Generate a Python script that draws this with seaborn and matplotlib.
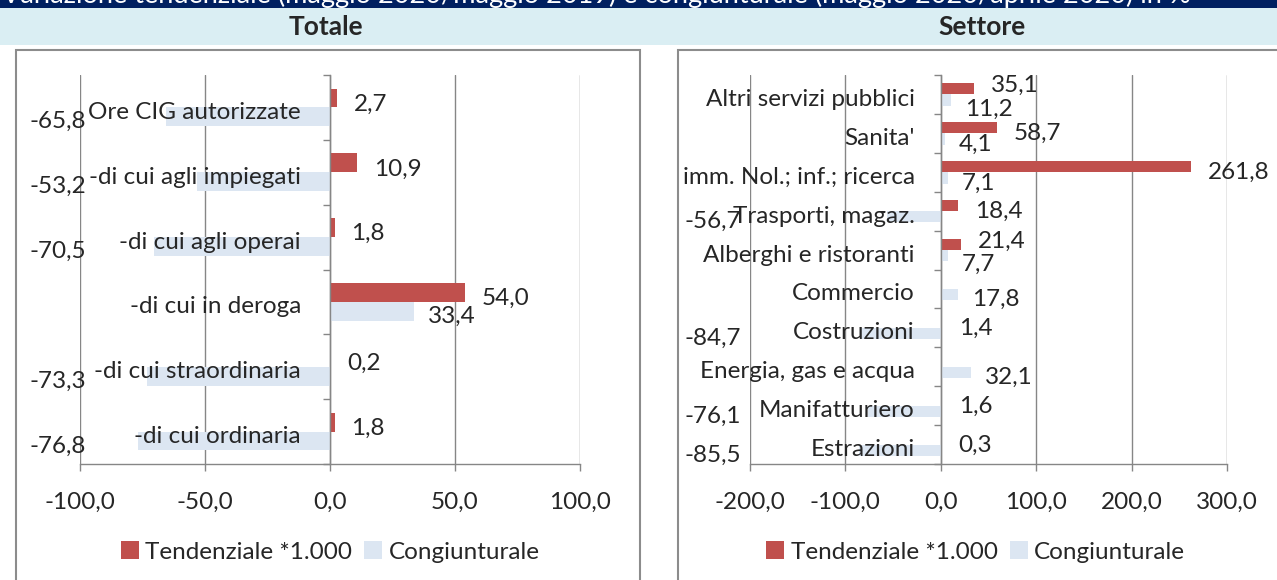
import numpy as np
import pandas as pd
import matplotlib
matplotlib.use("Agg")
import matplotlib.pyplot as plt
from matplotlib.patches import Rectangle
from matplotlib.ticker import FuncFormatter
import seaborn as sns

sns.set_style("white")
plt.rcParams['font.family'] = ['Lato', 'DejaVu Sans']

# dati
serie = ["Tendenziale *1.000", "Congiunturale"]

tot_cat = ["Ore CIG autorizzate", "-di cui agli impiegati", "-di cui agli operai",
           "-di cui in deroga", "-di cui straordinaria", "-di cui ordinaria"]
tot_tend = [2.7, 10.9, 1.8, 54.0, 0.2, 1.8]
tot_cong = [-65.8, -53.2, -70.5, 33.4, -73.3, -76.8]

set_cat = ["Altri servizi pubblici", "Sanita'", "imm. Nol.; inf.; ricerca",
           "Trasporti, magaz.", "Alberghi e ristoranti", "Commercio",
           "Costruzioni", "Energia, gas e acqua", "Manifatturiero", "Estrazioni"]
set_tend = [35.1, 58.7, 261.8, 18.4, 21.4, np.nan, 1.4, np.nan, 1.6, 0.3]
set_cong = [11.2, 4.1, 7.1, -56.7, 7.7, 17.8, -84.7, 32.1, -76.1, -85.5]

titolo = "Variazione tendenziale (maggio 2020/maggio 2019) e congiunturale (maggio 2020/aprile 2020) in %"

RED = "#C0504D"
BLUE = "#DCE6F2"
GRID = "#868686"
FS = 17.5
W, H = 1277, 580


def fmt(v):
    return f"{v:.1f}".replace('.', ',')


def px(v):
    return v * 0.72  # pixel -> punti a 100 dpi


def panel(fig, rect, cats, tend, cong, xlim, xticks, cat_dx, neg_dx, leg_x):
    x0, y0, x1, y1 = rect
    ax = fig.add_axes([x0 / W, 1 - y1 / H, (x1 - x0) / W, (y1 - y0) / H])
    df = pd.DataFrame({
        'cat': cats * 2,
        'serie': [serie[0]] * len(cats) + [serie[1]] * len(cats),
        'val': list(tend) + list(cong),
    })
    sns.barplot(data=df, x='val', y='cat', hue='serie', orient='h', order=cats,
                hue_order=serie, palette=[RED, BLUE], saturation=1, width=0.58,
                errorbar=None, linewidth=0, ax=ax)
    ax.set_xlim(*xlim)
    ax.set_xticks(xticks)
    ax.xaxis.set_major_formatter(FuncFormatter(lambda v, p: fmt(v)))
    n = len(cats)
    ax.set_yticks(np.arange(-0.5, n, 1))
    ax.set_yticklabels([])
    ax.set_ylim(n - 0.5, -0.5)
    ax.set_xlabel('')
    ax.set_ylabel('')
    ax.set_facecolor('none')
    for s in ['top', 'right']:
        ax.spines[s].set_visible(False)
    ax.spines['left'].set_position(('data', 0))
    for s in ['left', 'bottom']:
        ax.spines[s].set_color(GRID)
        ax.spines[s].set_linewidth(1)
    ax.xaxis.grid(True, color=GRID, lw=1)
    ax.yaxis.grid(False)
    ax.set_axisbelow(True)
    ax.tick_params(axis='x', direction='out', length=5, width=1, color=GRID,
                   pad=15, labelsize=FS, bottom=True)
    ax.tick_params(axis='y', direction='out', length=5, width=1, color=GRID, left=True)

    # scala in pixel per capire se le etichette si sovrappongono
    ppu = (x1 - x0) / (xlim[1] - xlim[0])
    off = 0.58 / 4
    for i, c in enumerate(cats):
        ax.annotate(c, xy=(0, i), xytext=(px(-cat_dx), px(-5)), textcoords='offset points',
                    ha='right', va='center', fontsize=FS)
        t = tend[i]
        v = cong[i]
        dt, dv = -6, -5
        if not np.isnan(t) and v >= 0 and abs(t - v) * ppu < 40:
            dt, dv = 3, -9
        if not np.isnan(t):
            ax.annotate(fmt(t), xy=(t, i - off), xytext=(px(17), px(dt)),
                        textcoords='offset points', ha='left', va='center', fontsize=FS)
        if v >= 0:
            ax.annotate(fmt(v), xy=(v, i + off), xytext=(px(14), px(dv)),
                        textcoords='offset points', ha='left', va='center', fontsize=FS)
        else:
            ax.annotate(fmt(v), xy=(0, i + off), xycoords=ax.get_yaxis_transform(),
                        xytext=(px(neg_dx), px(-5)), textcoords='offset points',
                        ha='right', va='center', fontsize=FS)

    sns.move_legend(ax, 'center', bbox_to_anchor=(leg_x, -0.226), ncol=2, frameon=False,
                    title=None, fontsize=FS, handlelength=0.75, handleheight=0.75,
                    handletextpad=0.25, columnspacing=0.5)
    return ax


fig = plt.figure(figsize=(W / 100, H / 100), dpi=100)

# intestazioni
fig.add_artist(Rectangle((0, 1 - 8 / H), 1, 8 / H, transform=fig.transFigure,
                         facecolor="#002060", edgecolor='none'))
fig.add_artist(Rectangle((0, 1 - 45 / H), 1, 37 / H, transform=fig.transFigure,
                         facecolor="#DAEEF3", edgecolor='none'))
fig.text(2 / W, 1 - 3 / H, titolo, color='white', fontsize=19.5, ha='left', va='baseline')
fig.text(326 / W, 1 - 27 / H, "Totale", fontsize=19, fontweight='bold', ha='center', va='center')
fig.text(982 / W, 1 - 27 / H, "Settore", fontsize=19, fontweight='bold', ha='center', va='center')

# cornici dei pannelli
for bx0, bx1 in [(16, 640), (678, 1290)]:
    fig.add_artist(Rectangle((bx0 / W, -0.1), (bx1 - bx0) / W, 1.1 - 50 / H,
                             transform=fig.transFigure, facecolor='none',
                             edgecolor="#8C8C8C", lw=1.5))

panel(fig, (80, 75, 580, 464), tot_cat, tot_tend, tot_cong,
      (-100, 100), [-100, -50, 0, 50, 100], 29, 6, 0.5)
panel(fig, (750, 75, 1227, 464), set_cat, set_tend, set_cong,
      (-200, 300), [-200, -100, 0, 100, 200, 300], 26, -9, 0.473)

fig.savefig("out.png", dpi=100)
